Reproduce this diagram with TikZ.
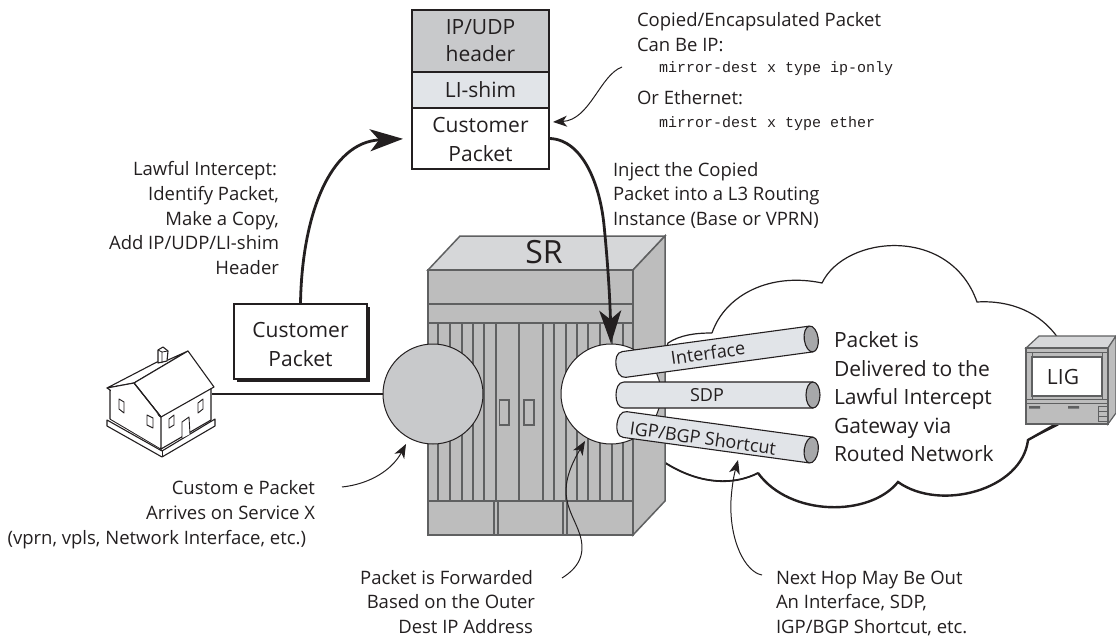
\documentclass[tikz,border=0pt]{standalone}
\usepackage{fontspec}
\setmainfont{Open Sans}
\newfontfamily\monof{Liberation Mono}
\usetikzlibrary{arrows.meta,shadows}
\definecolor{ink}{HTML}{231F20}
\definecolor{srline}{HTML}{5F6061}
\definecolor{srfront}{HTML}{BDBDBD}
\definecolor{srtop}{HTML}{D6D7D9}
\definecolor{circg}{HTML}{C8C9CB}
\definecolor{tubef}{HTML}{E1E4E8}
\definecolor{tubee}{HTML}{A7A8AA}
\newcommand\fsz[2]{\fontsize{#1}{#2}\selectfont}
\newcommand\tubeshape[1]{%
  \draw[tubeln,fill=tubef] (#1,-13) -- (4,-13) .. controls (-2,-13) and (-4,-6) .. (-4,0) .. controls (-4,6) and (-2,13) .. (4,13) -- (#1,13);
  \draw[tubeln,fill=tubee] (#1,0) ellipse (7 and 13);}
\tikzset{
  x=1pt,y=-1pt,
  txt/.style={inner sep=0pt,outer sep=0pt,text=ink,font=\fsz{18.5}{24.6}},
  tubeln/.style={draw=ink,line width=1.1pt},
  srl/.style={draw=srline,line width=1.5pt,line join=miter},
  bigarrow/.style={draw=ink,line width=2.8pt,-{Stealth[length=33pt,width=22pt,inset=9pt]}},
  thinarrow/.style={draw=ink,line width=1pt,-{Stealth[length=14pt,width=11pt,inset=4pt]}},
  stackbox/.style={draw=ink,line width=2pt,minimum width=137pt,inner sep=0pt,align=center,text=ink},
  hs/.style={draw=ink,line width=1.1pt,line join=round,fill=white},
  slot/.style={fill=srline},
}
\begin{document}
\begin{tikzpicture}
\useasboundingbox (0,0) rectangle (1116,639);
% cloud
\draw[ink,line width=1.2pt,fill=white] (712,333) .. controls (725,295) and (770,272) .. (822,283)
  .. controls (845,235) and (950,225) .. (977,302)
  .. controls (1010,300) and (1040,312) .. (1058,338) -- (1058,425) -- (1028,440)
  .. controls (1022,490) and (940,512) .. (898,482)
  .. controls (870,517) and (790,517) .. (758,473)
  .. controls (735,485) and (695,488) .. (650,452) -- (650,400) -- (668,343)
  .. controls (680,335) and (695,333) .. (712,333);
\draw[ink,line width=2.4pt] (1058,423) -- (1028,440)
  .. controls (1022,490) and (940,512) .. (898,482)
  .. controls (870,517) and (790,517) .. (758,473);
\draw[ink,line width=1.8pt] (758,473) .. controls (735,485) and (695,488) .. (650,452);
% SR
\fill[srfront] (428,270) rectangle (633,535);
\draw[srl,fill=srtop] (428,270) -- (460,236) -- (665,236) -- (633,270) -- cycle;
\draw[srl,fill=srfront] (633,270) -- (665,236) -- (665,501) -- (633,535) -- cycle;
\foreach \bx in {438,450,462,473,484,496,519,543,554,566,577,588,600,612,623}
  \fill[slot] (\bx-1.3,323) rectangle (\bx+1.3,501);
\draw[srl] (428,270) rectangle (633,535);
\draw[srl] (428,304) -- (633,304);
\draw[srl] (428,323) -- (633,323);
\draw[srl] (428,501) -- (633,501);
\draw[srl] (494,501) -- (494,535) (498,501) -- (498,535) (563,501) -- (563,535) (567,501) -- (567,535);
\draw[srl,line width=1.2pt] (499.5,400) rectangle (509,425);
\draw[srl,line width=1.2pt] (524,400) rectangle (534,425);
\node[txt,font=\fsz{32}{40}] (srlabel) at (544,252) {SR};
% circles
\node[circle,minimum size=100pt,inner sep=0pt,draw=ink,line width=1pt,fill=circg] (lc) at (433,394) {};
\node[circle,minimum size=100pt,inner sep=0pt,draw=ink,line width=1pt,fill=white] (rc) at (611,394) {};
% tubes
\begin{scope}[shift={(620,365)},rotate=7.75]\tubeshape{193}\end{scope}
\begin{scope}[shift={(620,395)}]\tubeshape{193}\end{scope}
\begin{scope}[shift={(621,424)},rotate=-7.8]\tubeshape{192}\end{scope}
\node[txt,font=\fsz{18}{20},rotate=8] (t1) at (708,353) {Interface};
\node[txt,font=\fsz{18}{20}] (t2) at (707,395) {SDP};
\node[txt,font=\fsz{18}{20},rotate=-8] (t3) at (703,438) {IGP/BGP Shortcut};
% LIG
\draw[srl,line width=1.2pt,fill=srtop] (1026,348) -- (1039,336) -- (1116,336) -- (1108,348) -- cycle;
\draw[srl,line width=1.2pt,fill=srfront] (1108,348) -- (1116,336) -- (1116,413) -- (1108,424) -- cycle;
\draw[srl,line width=1.2pt,fill=srfront] (1026,348) rectangle (1108,424);
\draw[srl,line width=1pt] (1026,352) -- (1108,352) (1026,399) -- (1108,399) (1026,403) -- (1108,403) (1032,352) -- (1032,399) (1102,352) -- (1102,399);
\node[draw=srline,line width=1.2pt,fill=white,minimum width=70pt,minimum height=39pt,inner sep=0pt,text=ink,font=\fsz{21}{24}] (lig) at (1067,376.5) {LIG\hspace*{8pt}};
\fill[srline] (1029,406) rectangle (1040,408.5) (1068,406) rectangle (1079,408.5);
\draw[srline,line width=.9pt] (1098,406) rectangle (1108,411) (1098,411) rectangle (1108,416) (1098,416) rectangle (1108,421);
% house
\coordinate (houseport) at (212,394);
\draw[hs] (107,420) -- (107,426) -- (162,457) -- (215,426) -- (215,419) -- (162,451) -- cycle;
\draw[ink,line width=.9pt] (162,451) -- (162,457);
\draw[hs] (110,388) -- (110,419) -- (161,449) -- (211,420) -- (211,385) -- (134,383) -- cycle;
\draw[ink,line width=.9pt] (113,420) -- (162,449);
\draw[hs] (107,388) -- (157,362) -- (168,360) -- (188,351) -- (134,383) -- cycle;
\draw[hs] (134,383) -- (188,351) -- (214,387) -- (161,417) -- cycle;
\draw[hs] (107,388) -- (134,383) -- (161,417) -- (110,390) -- cycle;
\fill[white] (111,390) -- (134,385) -- (160,418) -- (160,448) -- (111,419) -- cycle;
\draw[ink,line width=1.1pt] (134,383) -- (161,417) -- (161,450);
\draw[hs] (158,350) -- (163,347) -- (168,351) -- (167,361) -- (158,363) -- cycle;
\draw[ink,line width=.8pt] (162,352) -- (162,363) (158,350) -- (162,352) -- (168,351);
\draw[hs,line width=.9pt] (119,399) -- (124,402) -- (124,413) -- (119,409) -- cycle;
\draw[hs,line width=.9pt] (147,415) -- (153,418) -- (153,428) -- (147,425) -- cycle;
\draw[hs,line width=.9pt] (169,419) -- (174,415) -- (174,425) -- (169,428) -- cycle;
\draw[hs,line width=.9pt] (198,403) -- (203,399) -- (203,409) -- (198,413) -- cycle;
\draw[hs,line width=.9pt] (182,438) -- (182,422) -- (189,417) -- (190,434);
% packet boxes
\node[stackbox,fill=circg,minimum height=62pt,font=\fsz{21}{27}] (stackA) at (480.5,41) {IP/UDP\\header};
\node[stackbox,fill=tubef,minimum height=36pt,font=\fsz{21}{24}] (stackB) at (480.5,90) {LI-shim};
\node[stackbox,fill=white,minimum height=61pt,font=\fsz{21}{29}] (stackC) at (480.5,138.5) {\rule{0pt}{18pt}Customer\\Packet};
\node[draw=ink,line width=1.5pt,fill=white,minimum width=133pt,minimum height=75pt,inner sep=0pt,align=center,text=ink,font=\fsz{21}{29},
  drop shadow={shadow xshift=3pt,shadow yshift=-3pt,fill=ink,opacity=1}] (cust) at (300.5,341.5) {\rule{0pt}{22pt}Customer\\Packet};
% connectors
\draw[ink,line width=2.4pt] (houseport) -- (lc.west);
\draw[bigarrow,shorten >=8pt] (cust.north) .. controls (302,215) and (330,142) .. (stackC.west);
\draw[bigarrow] (stackC.east) .. controls (583,140) and (600,185) .. (604,225) .. controls (608,265) and (610,300) .. (rc.north);
\coordinate (a1s) at (622,67); \coordinate (a1e) at (553,122);
\draw[thinarrow] (a1s) .. controls (600,75) and (590,120) .. (a1e);
\coordinate (a2s) at (342,487); \coordinate (a2e) at (406,444);
\draw[thinarrow] (a2s) .. controls (370,484) and (392,470) .. (a2e);
\coordinate (a3s) at (562,578); \coordinate (a3e) at (585,441);
\draw[thinarrow] (a3s) .. controls (578,568) and (586,555) .. (580,535) .. controls (572,510) and (553,495) .. (a3e);
\coordinate (a4s) at (762,575); \coordinate (a4e) at (738,460);
\draw[thinarrow] (a4s) .. controls (745,572) and (729,540) .. (731,500) .. controls (732,485) and (734,475) .. (a4e);
% texts
\node[txt,anchor=north east,align=right] (n1) at (279,158.7) {\strut Lawful Intercept:\hspace*{2pt}\\Identify Packet,\hspace*{5pt}\\Make a Copy,\hspace*{7pt}\\Add IP/UDP/LI-shim\hspace*{8pt}\\Header};
\node[txt,anchor=north east,align=right] (n2) at (315,477.7) {\strut Custom e Packet\\Arrives on Service X\hspace*{4pt}\\(vprn, vpls, Network Interface, etc.)\hspace*{9pt}};
\node[txt,anchor=north east,align=right] (n3) at (535,566.8) {\strut Packet is Forwarded\hspace*{2pt}\\Based on the Outer\\Dest IP Address\hspace*{2pt}};
\node[txt,anchor=north west,align=left] (n4) at (776,566.8) {\strut Next Hop May Be Out\\An Interface, SDP,\\IGP/BGP Shortcut, etc.};
\node[txt,anchor=north west,align=left] (n5) at (613,158.8) {\strut Inject the Copied\\Packet into a L3 Routing\\Instance (Base or VPRN)};
\node[txt,anchor=north west,align=left] (n6) at (637,9.5) {\strut Copied/Encapsulated Packet\\Can Be IP:\\[-3pt]\hspace*{22pt}{\monof\fsz{15}{24.6}mirror-dest x type ip-only}\\[7pt]Or Ethernet:\\[-2pt]\hspace*{22pt}{\monof\fsz{15}{24.6}mirror-dest x type ether}};
\node[txt,anchor=north west,align=left,font=\fsz{21}{28.5}] (n7) at (834,328) {\strut Packet is\\Delivered to the\\Lawful Intercept\\Gateway via\\Routed Network};
\end{tikzpicture}
\end{document}
